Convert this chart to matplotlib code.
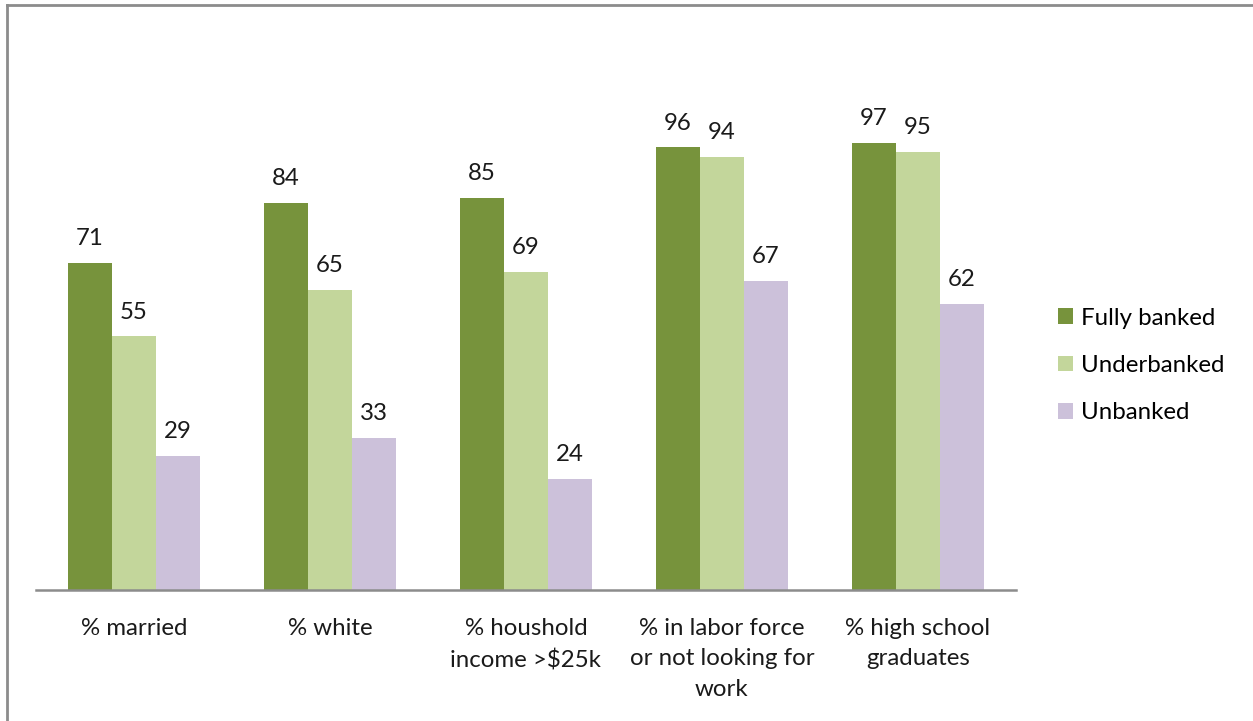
import matplotlib
matplotlib.use("Agg")
import matplotlib.pyplot as plt
from matplotlib.patches import Patch
import numpy as np

categories = ["% married", "% white", "% houshold\nincome >$25k",
              "% in labor force\nor not looking for\nwork", "% high school\ngraduates"]
series_names = ["Fully banked", "Underbanked", "Unbanked"]
fully_banked = [71, 84, 85, 96, 97]
underbanked = [55, 65, 69, 94, 95]
unbanked = [29, 33, 24, 67, 62]
colors = ["#77933C", "#C3D69B", "#CCC1DA"]

plt.rcParams["font.family"] = ["Lato", "DejaVu Sans"]
FS = 17.3

fig = plt.figure(figsize=(12.53, 7.21), dpi=100)
ax = fig.add_axes([0.0287, 0.1817, 0.782, 0.764])

x = np.arange(len(categories))
width = 44 / 196
values = [fully_banked, underbanked, unbanked]
for i, (vals, col) in enumerate(zip(values, colors)):
    pos = x + (i - 1) * width
    ax.bar(pos, vals, width=width, color=col, edgecolor="none")
    for px, v in zip(pos, vals):
        ax.annotate(str(v), (px, v), xytext=(0, 10), textcoords="offset points",
                    ha="center", va="bottom", fontsize=FS, color="#1a1a1a")

ax.set_xlim(-0.5, len(categories) - 0.5)
ax.set_ylim(0, 119.5)
for s in ["top", "right", "left"]:
    ax.spines[s].set_visible(False)
ax.spines["bottom"].set_color("#8c8c8c")
ax.spines["bottom"].set_linewidth(1.8)
ax.set_yticks([])
ax.set_xticks(x)
ax.set_xticklabels(categories, fontsize=FS, color="#1a1a1a", linespacing=1.57)
ax.tick_params(axis="x", length=0, pad=20)

handles = [Patch(facecolor=c, edgecolor="none") for c in colors]
fig.legend(handles, series_names, loc="center left", bbox_to_anchor=(0.827, 0.493),
           frameon=False, fontsize=FS, handlelength=0.62, handleheight=0.62,
           handletextpad=0.35, labelspacing=1.1)

# outer frame (top and left edges visible)
fig.add_artist(plt.Line2D([0.0052, 1.0], [0.9924, 0.9924], color="#8c8c8c", lw=2,
                          transform=fig.transFigure))
fig.add_artist(plt.Line2D([0.0052, 0.0052], [0.0, 0.9924], color="#8c8c8c", lw=2,
                          transform=fig.transFigure))

fig.savefig("out.png", dpi=100)
